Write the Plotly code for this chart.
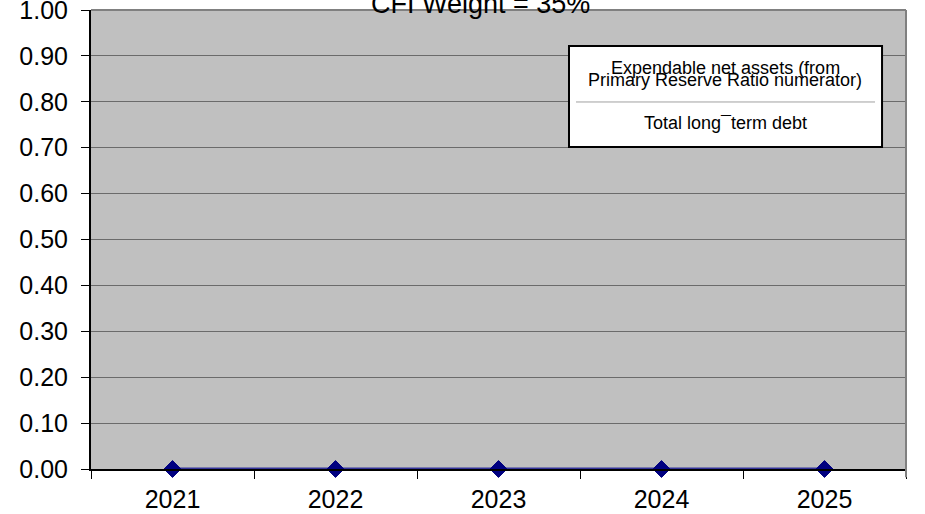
import plotly.graph_objects as go

# CFI component: expendable net assets over long-term debt
years = ["2021", "2022", "2023", "2024", "2025"]
ratio_values = [0.00, 0.00, 0.00, 0.00, 0.00]
y_tick_values = [0.0, 0.1, 0.2, 0.3, 0.4, 0.5, 0.6, 0.7, 0.8, 0.9, 1.0]

chart_title = "CFI Weight = 35%"
formula_numerator = ["Expendable net assets (from", "Primary Reserve Ratio numerator)"]
formula_denominator = "Total long\u00afterm debt"

FONT = "Liberation Sans, Arial, sans-serif"

fig = go.Figure()
fig.add_trace(go.Scatter(
    x=years,
    y=ratio_values,
    mode="lines+markers",
    line=dict(color="#333399", width=3),
    marker=dict(symbol="diamond", size=13, color="#000080",
                line=dict(color="#000080", width=1)),
    cliponaxis=False,
    showlegend=False,
))

# plot-area frame on the top and right sides
fig.add_shape(type="line", xref="paper", yref="paper", x0=1, x1=1, y0=-0.018, y1=1,
              line=dict(color="#808080", width=2))
fig.add_shape(type="line", xref="paper", yref="paper", x0=0, x1=1, y0=1, y1=1,
              line=dict(color="#808080", width=2))

# formula box
fig.add_shape(type="rect", xref="paper", yref="paper",
              x0=0.5865, x1=0.9706, y0=0.7015, y1=0.9216,
              fillcolor="white", line=dict(color="black", width=2))
fig.add_shape(type="line", xref="paper", yref="paper",
              x0=0.5951, x1=0.962, y0=0.7996, y1=0.7996,
              line=dict(color="#a0a0a0", width=1))

box_cx = 0.7785
for txt, ypos in [(formula_numerator[0], 0.8740), (formula_numerator[1], 0.8475)]:
    fig.add_annotation(text=txt, xref="paper", yref="paper", x=box_cx, y=ypos,
                       xanchor="center", yanchor="middle", showarrow=False,
                       font=dict(family=FONT, size=18, color="black"))
fig.add_annotation(text=formula_denominator, xref="paper", yref="paper", x=box_cx, y=0.7535,
                   xanchor="center", yanchor="middle", showarrow=False,
                   font=dict(family=FONT, size=18, color="black"))

fig.add_annotation(text=chart_title, xref="paper", yref="paper", x=0.4785, y=1,
                   xanchor="center", yanchor="bottom", yshift=-11, showarrow=False,
                   font=dict(family=FONT, size=27, color="black"))

fig.update_layout(
    width=925, height=514,
    margin=dict(l=91, r=19, t=10, b=45, autoexpand=False),
    paper_bgcolor="white",
    plot_bgcolor="#C0C0C0",
    font=dict(family=FONT, color="black"),
    xaxis=dict(
        type="category", categoryorder="array", categoryarray=years,
        range=[-0.5, 4.5], tickson="boundaries", automargin=False,
        ticks="outside", ticklen=8, tickwidth=1, tickcolor="black",
        showline=True, linecolor="black", linewidth=2,
        showgrid=False, zeroline=False, ticklabelstandoff=7,
        tickfont=dict(size=25, family=FONT, color="black"),
    ),
    yaxis=dict(
        range=[0, 1], tickvals=y_tick_values, tickformat=".2f", automargin=False,
        ticks="outside", ticklen=8, tickwidth=1, tickcolor="black",
        showline=True, linecolor="black", linewidth=2,
        showgrid=True, gridcolor="#6b6b6b", gridwidth=1, zeroline=False,
        ticklabelstandoff=8, ticklabeloverflow="allow",
        tickfont=dict(size=25, family=FONT, color="black"),
    ),
)

fig.write_html("out.html")
